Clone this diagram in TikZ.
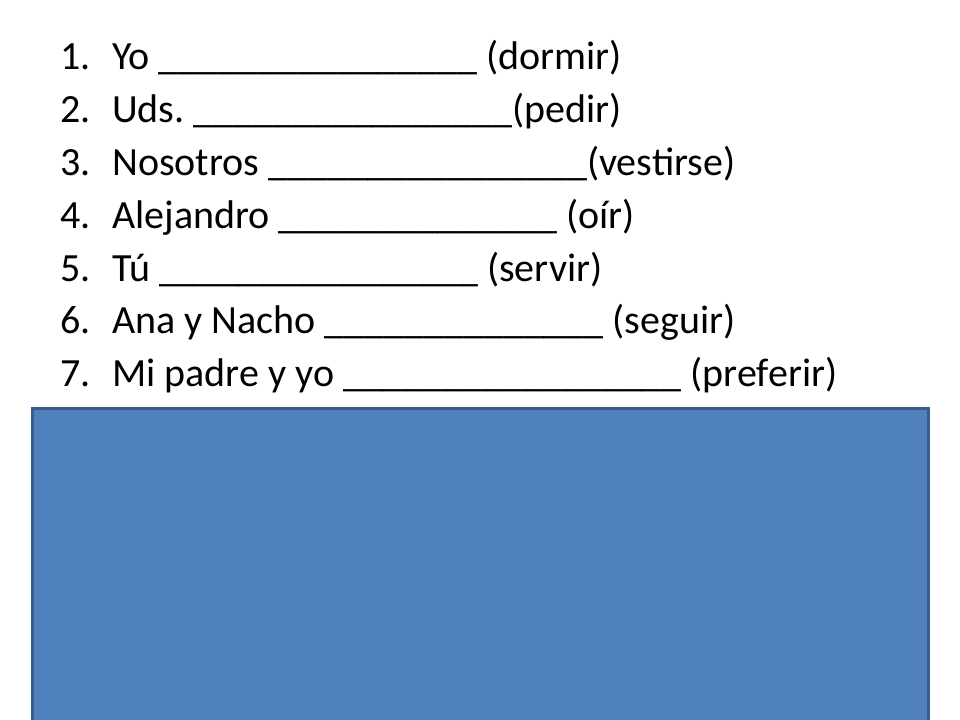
\documentclass[tikz,border=0pt]{standalone}
\usepackage{fontspec}
\setmainfont{Carlito}
\definecolor{slideblue}{RGB}{79,129,189}
\definecolor{slideedge}{RGB}{56,93,138}
\frenchspacing
\begin{document}
\begin{tikzpicture}[x=0.75pt,y=-0.75pt,
  numstyle/.style={anchor=base west,inner sep=0pt,font=\fontsize{30}{36}\selectfont},
  itemstyle/.style={anchor=base west,inner sep=0pt,font=\fontsize{30}{36}\selectfont},
  panel/.style={fill=slideblue,draw=slideedge,line width=2.2pt}]
\useasboundingbox (0,0) rectangle (960,720);
\clip (0,0) rectangle (960,720);
\fill[white] (0,0) rectangle (960,720);
\node[numstyle] (n1) at (60,70) {1.};
\node[itemstyle] (t1) at (112,70) {Yo \_\_\_\_\_\_\_\_\_\_\_\_\_\_\_\_ (dormir)};
\node[numstyle] (n2) at (60,122.8) {2.};
\node[itemstyle] (t2) at (112,122.8) {Uds. \_\_\_\_\_\_\_\_\_\_\_\_\_\_\_\_(pedir)};
\node[numstyle] (n3) at (60,175.6) {3.};
\node[itemstyle] (t3) at (112,175.6) {Nosotros \_\_\_\_\_\_\_\_\_\_\_\_\_\_\_\_(vestirse)};
\node[numstyle] (n4) at (60,228.4) {4.};
\node[itemstyle] (t4) at (112,228.4) {Alejandro \_\_\_\_\_\_\_\_\_\_\_\_\_\_ (oír)};
\node[numstyle] (n5) at (60,281.2) {5.};
\node[itemstyle] (t5) at (112,281.2) {Tú \_\_\_\_\_\_\_\_\_\_\_\_\_\_\_\_ (servir)};
\node[numstyle] (n6) at (60,334) {6.};
\node[itemstyle] (t6) at (112,334) {Ana y Nacho \_\_\_\_\_\_\_\_\_\_\_\_\_\_ (seguir)};
\node[numstyle] (n7) at (60,386.8) {7.};
\node[itemstyle] (t7) at (112,386.8) {Mi padre y yo \_\_\_\_\_\_\_\_\_\_\_\_\_\_\_\_\_ (preferir)};
\path[panel] (32.5,408.5) rectangle (928.5,740);
\end{tikzpicture}
\end{document}
